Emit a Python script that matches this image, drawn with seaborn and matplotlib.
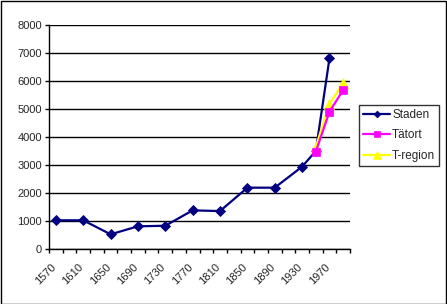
import matplotlib
matplotlib.use("Agg")
import matplotlib.pyplot as plt
import seaborn as sns
import pandas as pd
from matplotlib.patches import Rectangle
from matplotlib.transforms import ScaledTranslation

# ---- data ----
staden_years = [1570, 1610, 1650, 1690, 1730, 1770, 1810, 1850, 1890, 1930, 1950, 1970]
staden = [1025, 1025, 525, 810, 830, 1380, 1355, 2190, 2190, 2940, 3500, 6810]
tatort_years = [1950, 1970, 1990]
tatort = [3475, 4905, 5680]
tregion_years = [1950, 1970, 1990]
tregion = [3650, 5180, 5930]
category_years = list(range(1570, 2000, 20))   # 22 equally spaced categories
label_years = category_years[::2]                # every other one labelled
y_ticks = list(range(0, 8001, 1000))

sns.set_style("white")
plt.rcParams['font.family'] = ['Liberation Sans', 'DejaVu Sans']

W, H = 447, 304
fig = plt.figure(figsize=(W / 100, H / 100), dpi=100)
ax = fig.add_axes([49 / W, 1 - 249 / H, (350 - 49) / W, (249 - 25) / H])

df_s = pd.DataFrame({"year": staden_years, "value": staden})
df_t = pd.DataFrame({"year": tatort_years, "value": tatort})
df_r = pd.DataFrame({"year": tregion_years, "value": tregion})

sns.lineplot(data=df_s, x="year", y="value", ax=ax, color="#000080", marker="D",
             markersize=4.8, mec="#000080", mew=0.6, lw=1.6, label="Staden", zorder=3)
sns.lineplot(data=df_r, x="year", y="value", ax=ax, color="#FFFF00", marker="^",
             markersize=7.5, mec="#FFFF00", mew=0.5, lw=1.6, label="T-region", zorder=4)
sns.lineplot(data=df_t, x="year", y="value", ax=ax, color="#FF00FF", marker="s",
             markersize=5.3, mec="#FF00FF", mew=0.5, lw=1.6, label="Tätort", zorder=5)

half = 10
ax.set_xlim(category_years[0] - half, category_years[-1] + half)
ax.set_ylim(0, 8000)
ax.set_yticks(y_ticks)
ax.set_yticklabels([str(v) for v in y_ticks])
ax.yaxis.grid(True, color="black", lw=1)
ax.set_axisbelow(True)

# tick marks at category boundaries, labels at category centres
boundaries = [c - half for c in category_years] + [category_years[-1] + half]
ax.set_xticks(boundaries)
ax.set_xticklabels([])
ax.set_xticks(label_years, minor=True)
ax.set_xticklabels([str(y) for y in label_years], minor=True, rotation=45,
                   ha="right", va="top", rotation_mode="anchor")
ax.tick_params(axis="x", which="major", direction="out", length=3, width=1,
               color="black", bottom=True)
ax.tick_params(axis="x", which="minor", length=0, pad=9, labelsize=8)
ax.tick_params(axis="y", direction="out", length=3, width=1, color="black",
               left=True, labelsize=8, pad=2)
for lab in ax.get_xticklabels(minor=True):
    lab.set_transform(lab.get_transform() + ScaledTranslation(-5 / 100, 0, fig.dpi_scale_trans))

ax.set_xlabel("")
ax.set_ylabel("")
for s in ["top", "right"]:
    ax.spines[s].set_visible(False)
for s in ["left", "bottom"]:
    ax.spines[s].set_color("black")
    ax.spines[s].set_linewidth(1)

handles, labels = ax.get_legend_handles_labels()
order = [labels.index(n) for n in ["Staden", "Tätort", "T-region"]]
ax.get_legend().remove()
leg = fig.legend([handles[i] for i in order], [labels[i] for i in order],
                 loc="upper left", bbox_to_anchor=(359 / W, 1 - 105 / H),
                 frameon=True, fancybox=False, edgecolor="black", fontsize=8.5,
                 borderaxespad=0, handlelength=2.3, handletextpad=0.15,
                 borderpad=0.35, labelspacing=0.7, markerscale=0.7)
leg.get_frame().set_linewidth(1)

fig.patches.append(Rectangle((0.5 / W, 0.5 / H), 1 - 1.5 / W, 1 - 1.5 / H,
                             transform=fig.transFigure, fill=False,
                             edgecolor="black", lw=1))

fig.savefig("out.png", dpi=100)
